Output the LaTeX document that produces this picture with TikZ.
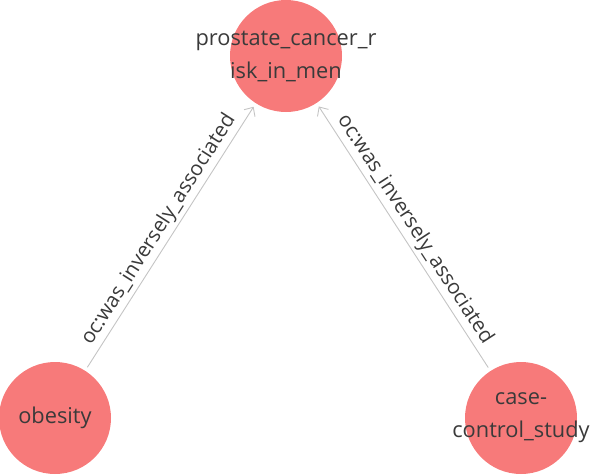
\documentclass[tikz,border=0pt]{standalone}
\usepackage{fontspec}
\setmainfont{Open Sans}
\usetikzlibrary{arrows.meta}
\definecolor{nodefill}{HTML}{F77A7A}
\definecolor{txt}{HTML}{3A3A3A}
\definecolor{edgecol}{HTML}{C4C4C4}
\tikzset{
  ent/.style={circle, fill=nodefill, draw=none, minimum size=112pt, inner sep=0pt},
  enttext/.style={text=txt, font=\fontsize{21.8}{33}\selectfont, align=center, inner sep=0pt},
  rel/.style={draw=edgecol, line width=0.9pt, -{Straight Barb[length=7pt,width=13pt]}, shorten >=4pt, shorten <=4pt},
  rellabel/.style={text=txt, font=\fontsize{20.5}{22}\selectfont, inner sep=3pt, midway, sloped, above}
}
\begin{document}
\begin{tikzpicture}[x=1pt,y=-1pt]
\useasboundingbox (0,0) rectangle (594,475);
\node[ent, label={[enttext]center:prostate\_cancer\_r\\isk\_in\_men}] (top) at (286,56) {};
\node[ent, label={[enttext]center:obesity}] (ob) at (55,418) {};
\node[ent, label={[enttext]center:case-\\control\_study}] (cc) at (521,418) {};
\draw[rel] (ob) -- (top) node[rellabel] {oc:was\_inversely\_associated};
\draw[rel] (cc) -- (top) node[rellabel] {oc:was\_inversely\_associated};
\end{tikzpicture}
\end{document}
